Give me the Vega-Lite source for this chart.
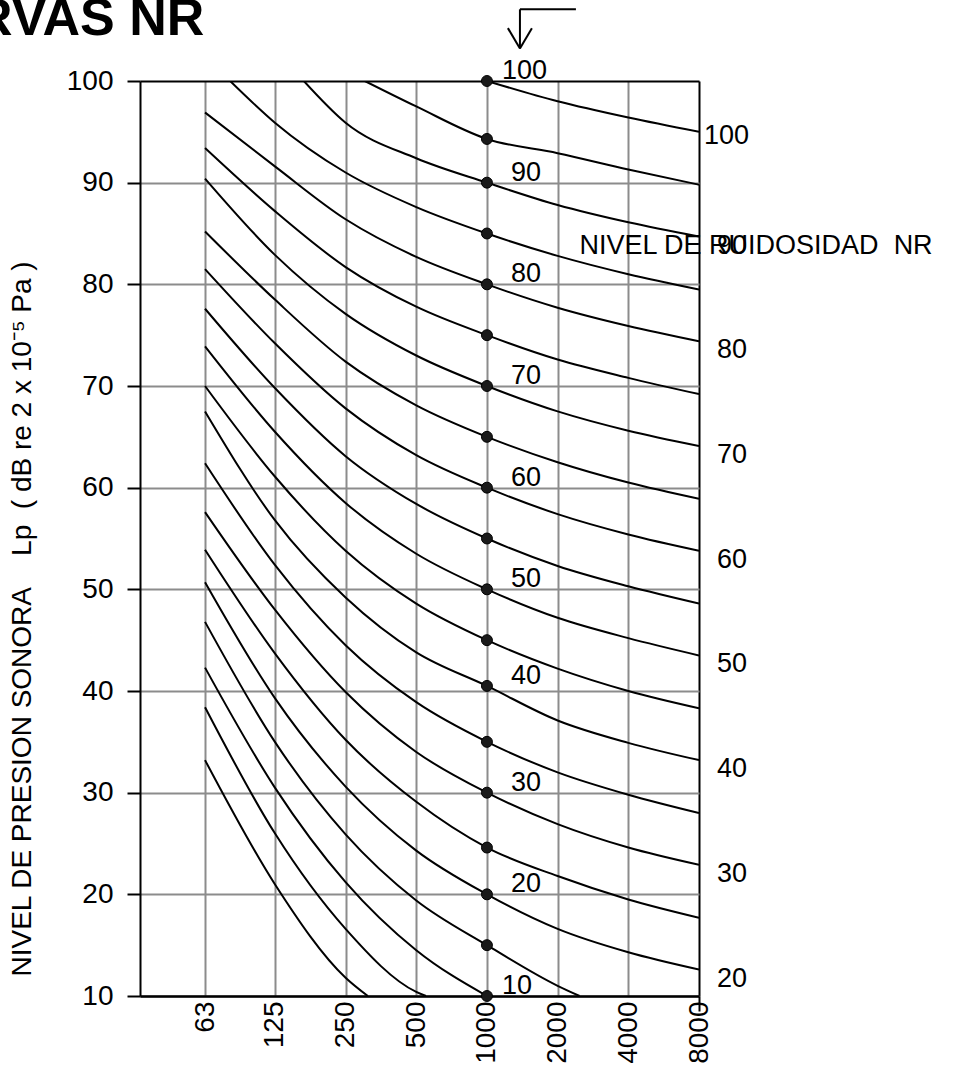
{
  "$schema": "https://vega.github.io/schema/vega-lite/v6.json",
  "width": 559,
  "height": 915,
  "autosize": {"type": "none"},
  "padding": {"left": 140, "top": 81, "right": 260, "bottom": 72},
  "background": "white",
  "config": {"font": "Liberation Sans", "view": {"stroke": null}},
  "title": {"text": "CURVAS NR", "anchor": "start", "frame": "group", "fontSize": 52, "fontWeight": "bold", "color": "black", "dx": -240, "offset": -38},
  "datasets": {
    "curves": [
      {"nr": 0, "f": 63, "db": 33.2}, {"nr": 0, "f": 125, "db": 21.0}, {"nr": 0, "f": 250, "db": 11.8}, {"nr": 0, "f": 311, "db": 10},
      {"nr": 5, "f": 63, "db": 38.4}, {"nr": 5, "f": 125, "db": 26.0}, {"nr": 5, "f": 250, "db": 16.6}, {"nr": 5, "f": 500, "db": 10.4}, {"nr": 5, "f": 550, "db": 10},
      {"nr": 10, "f": 63, "db": 42.3}, {"nr": 10, "f": 125, "db": 30.5}, {"nr": 10, "f": 250, "db": 21.2}, {"nr": 10, "f": 500, "db": 14.5}, {"nr": 10, "f": 1000, "db": 10},
      {"nr": 15, "f": 63, "db": 46.8}, {"nr": 15, "f": 125, "db": 35.0}, {"nr": 15, "f": 250, "db": 25.9}, {"nr": 15, "f": 500, "db": 19.4}, {"nr": 15, "f": 1000, "db": 15}, {"nr": 15, "f": 2000, "db": 11.0}, {"nr": 15, "f": 2480, "db": 10},
      {"nr": 20, "f": 63, "db": 50.7}, {"nr": 20, "f": 125, "db": 39.3}, {"nr": 20, "f": 250, "db": 30.6}, {"nr": 20, "f": 500, "db": 24.3}, {"nr": 20, "f": 1000, "db": 20}, {"nr": 20, "f": 2000, "db": 16.6}, {"nr": 20, "f": 4000, "db": 14.3}, {"nr": 20, "f": 8000, "db": 12.6},
      {"nr": 25, "f": 63, "db": 53.9}, {"nr": 25, "f": 125, "db": 43.7}, {"nr": 25, "f": 250, "db": 35.2}, {"nr": 25, "f": 500, "db": 29.1}, {"nr": 25, "f": 1000, "db": 24.6}, {"nr": 25, "f": 2000, "db": 21.8}, {"nr": 25, "f": 4000, "db": 19.5}, {"nr": 25, "f": 8000, "db": 17.7},
      {"nr": 30, "f": 63, "db": 57.6}, {"nr": 30, "f": 125, "db": 48.0}, {"nr": 30, "f": 250, "db": 39.9}, {"nr": 30, "f": 500, "db": 34.0}, {"nr": 30, "f": 1000, "db": 30}, {"nr": 30, "f": 2000, "db": 26.9}, {"nr": 30, "f": 4000, "db": 24.6}, {"nr": 30, "f": 8000, "db": 22.9},
      {"nr": 35, "f": 63, "db": 62.4}, {"nr": 35, "f": 125, "db": 52.4}, {"nr": 35, "f": 250, "db": 44.5}, {"nr": 35, "f": 500, "db": 38.9}, {"nr": 35, "f": 1000, "db": 35}, {"nr": 35, "f": 2000, "db": 32.0}, {"nr": 35, "f": 4000, "db": 29.8}, {"nr": 35, "f": 8000, "db": 28.0},
      {"nr": 40, "f": 63, "db": 67.5}, {"nr": 40, "f": 125, "db": 56.8}, {"nr": 40, "f": 250, "db": 49.2}, {"nr": 40, "f": 500, "db": 43.8}, {"nr": 40, "f": 1000, "db": 40.5}, {"nr": 40, "f": 2000, "db": 37.1}, {"nr": 40, "f": 4000, "db": 34.9}, {"nr": 40, "f": 8000, "db": 33.2},
      {"nr": 45, "f": 63, "db": 70.0}, {"nr": 45, "f": 125, "db": 61.1}, {"nr": 45, "f": 250, "db": 53.8}, {"nr": 45, "f": 500, "db": 48.6}, {"nr": 45, "f": 1000, "db": 45}, {"nr": 45, "f": 2000, "db": 42.2}, {"nr": 45, "f": 4000, "db": 40.0}, {"nr": 45, "f": 8000, "db": 38.3},
      {"nr": 50, "f": 63, "db": 73.9}, {"nr": 50, "f": 125, "db": 65.5}, {"nr": 50, "f": 250, "db": 58.5}, {"nr": 50, "f": 500, "db": 53.5}, {"nr": 50, "f": 1000, "db": 50}, {"nr": 50, "f": 2000, "db": 47.2}, {"nr": 50, "f": 4000, "db": 45.2}, {"nr": 50, "f": 8000, "db": 43.5},
      {"nr": 55, "f": 63, "db": 77.6}, {"nr": 55, "f": 125, "db": 69.8}, {"nr": 55, "f": 250, "db": 63.1}, {"nr": 55, "f": 500, "db": 58.4}, {"nr": 55, "f": 1000, "db": 55}, {"nr": 55, "f": 2000, "db": 52.3}, {"nr": 55, "f": 4000, "db": 50.3}, {"nr": 55, "f": 8000, "db": 48.6},
      {"nr": 60, "f": 63, "db": 81.5}, {"nr": 60, "f": 125, "db": 74.2}, {"nr": 60, "f": 250, "db": 67.8}, {"nr": 60, "f": 500, "db": 63.2}, {"nr": 60, "f": 1000, "db": 60}, {"nr": 60, "f": 2000, "db": 57.4}, {"nr": 60, "f": 4000, "db": 55.4}, {"nr": 60, "f": 8000, "db": 53.8},
      {"nr": 65, "f": 63, "db": 85.2}, {"nr": 65, "f": 125, "db": 78.5}, {"nr": 65, "f": 250, "db": 72.4}, {"nr": 65, "f": 500, "db": 68.1}, {"nr": 65, "f": 1000, "db": 65}, {"nr": 65, "f": 2000, "db": 62.5}, {"nr": 65, "f": 4000, "db": 60.5}, {"nr": 65, "f": 8000, "db": 58.9},
      {"nr": 70, "f": 63, "db": 90.4}, {"nr": 70, "f": 125, "db": 82.9}, {"nr": 70, "f": 250, "db": 77.1}, {"nr": 70, "f": 500, "db": 73.0}, {"nr": 70, "f": 1000, "db": 70}, {"nr": 70, "f": 2000, "db": 67.5}, {"nr": 70, "f": 4000, "db": 65.6}, {"nr": 70, "f": 8000, "db": 64.1},
      {"nr": 75, "f": 63, "db": 93.4}, {"nr": 75, "f": 125, "db": 87.2}, {"nr": 75, "f": 250, "db": 81.7}, {"nr": 75, "f": 500, "db": 77.8}, {"nr": 75, "f": 1000, "db": 75}, {"nr": 75, "f": 2000, "db": 72.6}, {"nr": 75, "f": 4000, "db": 70.8}, {"nr": 75, "f": 8000, "db": 69.2},
      {"nr": 80, "f": 63, "db": 96.9}, {"nr": 80, "f": 125, "db": 91.6}, {"nr": 80, "f": 250, "db": 86.4}, {"nr": 80, "f": 500, "db": 82.7}, {"nr": 80, "f": 1000, "db": 80}, {"nr": 80, "f": 2000, "db": 77.7}, {"nr": 80, "f": 4000, "db": 75.9}, {"nr": 80, "f": 8000, "db": 74.4},
      {"nr": 85, "f": 80.6, "db": 100}, {"nr": 85, "f": 125, "db": 95.9}, {"nr": 85, "f": 250, "db": 91.0}, {"nr": 85, "f": 500, "db": 87.6}, {"nr": 85, "f": 1000, "db": 85}, {"nr": 85, "f": 2000, "db": 82.8}, {"nr": 85, "f": 4000, "db": 81.0}, {"nr": 85, "f": 8000, "db": 79.5},
      {"nr": 90, "f": 166, "db": 100}, {"nr": 90, "f": 250, "db": 95.9}, {"nr": 90, "f": 500, "db": 92.4}, {"nr": 90, "f": 1000, "db": 90}, {"nr": 90, "f": 2000, "db": 87.8}, {"nr": 90, "f": 4000, "db": 86.1}, {"nr": 90, "f": 8000, "db": 84.7},
      {"nr": 95, "f": 302, "db": 100}, {"nr": 95, "f": 500, "db": 97.5}, {"nr": 95, "f": 1000, "db": 94.3}, {"nr": 95, "f": 2000, "db": 92.9}, {"nr": 95, "f": 4000, "db": 91.3}, {"nr": 95, "f": 8000, "db": 89.8},
      {"nr": 100, "f": 1000, "db": 100}, {"nr": 100, "f": 2000, "db": 98.0}, {"nr": 100, "f": 4000, "db": 96.4}, {"nr": 100, "f": 8000, "db": 95.0}
    ],
    "note": [{"f": 2480, "db": 83.8, "t": "NIVEL DE RUIDOSIDAD\u00a0\u00a0NR"}],
    "arrow": [
      {"f": 1382, "db": 107.05, "f2": 1382, "db2": 103.2},
      {"f": 1382, "db": 107.05, "f2": 2393, "db2": 107.05},
      {"f": 1228, "db": 105.2, "f2": 1382, "db2": 103.2},
      {"f": 1554, "db": 105.2, "f2": 1382, "db2": 103.2}
    ]
  },
  "layer": [
    {
      "data": {"name": "curves"},
      "mark": {"type": "line", "color": "black", "strokeWidth": 2, "clip": true, "interpolate": "monotone"},
      "encoding": {
        "x": {"field": "f", "type": "quantitative", "scale": {"type": "log", "domain": [33.3, 8000]},
          "axis": {"values": [63, 125, 250, 500, 1000, 2000, 4000, 8000], "format": "d", "labelAngle": -90, "labelFontSize": 28, "labelColor": "black", "labelPadding": -10, "tickSize": 15, "tickWidth": 2,
            "tickColor": {"condition": {"test": "datum.value == 8000", "value": "black"}, "value": "transparent"},
            "grid": true, "gridWidth": 2, "gridColor": {"condition": {"test": "datum.value == 8000", "value": "black"}, "value": "#8c8c8c"},
            "domainColor": "black", "domainWidth": 2.5, "title": null}},
        "y": {"field": "db", "type": "quantitative", "scale": {"domain": [10, 100]},
          "axis": {"values": [10, 20, 30, 40, 50, 60, 70, 80, 90, 100], "labelFontSize": 28, "labelColor": "black", "labelPadding": 14, "tickSize": 13, "tickWidth": 2, "tickColor": "black",
            "domainColor": "black", "domainWidth": 2, "grid": true, "gridWidth": 2,
            "gridColor": {"condition": {"test": "datum.value == 100", "value": "black"}, "value": "#8c8c8c"},
            "title": "NIVEL DE PRESION SONORA\u00a0\u00a0\u00a0\u00a0Lp\u00a0\u00a0( dB re 2 x 10\u207b\u2075 Pa )", "titleFontSize": 28, "titleFontWeight": "normal", "titleColor": "black", "titlePadding": 30, "titleAnchor": "start", "titleY": 895}},
        "detail": {"field": "nr"},
        "order": {"field": "f"}
      }
    },
    {
      "data": {"name": "curves"},
      "transform": [{"filter": "datum.f == 1000 && datum.nr >= 10"}],
      "mark": {"type": "point", "filled": true, "size": 120, "color": "#1a1a1a", "stroke": "black", "strokeWidth": 1, "opacity": 1},
      "encoding": {
        "x": {"field": "f", "type": "quantitative", "scale": {"type": "log", "domain": [33.3, 8000]}},
        "y": {"field": "db", "type": "quantitative", "scale": {"domain": [10, 100]}}
      }
    },
    {
      "data": {"name": "curves"},
      "transform": [{"filter": "datum.f == 1000 && datum.nr > 10 && datum.nr < 100 && datum.nr % 10 == 0"}],
      "mark": {"type": "text", "align": "left", "baseline": "middle", "dx": 24, "dy": -10, "fontSize": 27, "color": "black"},
      "encoding": {
        "x": {"field": "f", "type": "quantitative", "scale": {"type": "log", "domain": [33.3, 8000]}},
        "y": {"field": "db", "type": "quantitative", "scale": {"domain": [10, 100]}},
        "text": {"field": "nr", "type": "quantitative"}
      }
    },
    {
      "data": {"name": "curves"},
      "transform": [{"filter": "datum.f == 1000 && (datum.nr == 10 || datum.nr == 100)"}],
      "mark": {"type": "text", "align": "left", "baseline": "middle", "dx": 15, "dy": -10, "fontSize": 27, "color": "black"},
      "encoding": {
        "x": {"field": "f", "type": "quantitative", "scale": {"type": "log", "domain": [33.3, 8000]}},
        "y": {"field": "db", "type": "quantitative", "scale": {"domain": [10, 100]}},
        "text": {"field": "nr", "type": "quantitative"}
      }
    },
    {
      "data": {"name": "curves"},
      "transform": [{"filter": "datum.f == 8000 && datum.nr % 10 == 0 && datum.nr < 100"}],
      "mark": {"type": "text", "align": "left", "baseline": "middle", "dx": 18, "dy": 9, "fontSize": 27, "color": "black"},
      "encoding": {
        "x": {"field": "f", "type": "quantitative", "scale": {"type": "log", "domain": [33.3, 8000]}},
        "y": {"field": "db", "type": "quantitative", "scale": {"domain": [10, 100]}},
        "text": {"field": "nr", "type": "quantitative"}
      }
    },
    {
      "data": {"name": "curves"},
      "transform": [{"filter": "datum.f == 8000 && datum.nr == 100"}],
      "mark": {"type": "text", "align": "left", "baseline": "middle", "dx": 5, "dy": 4, "fontSize": 27, "color": "black"},
      "encoding": {
        "x": {"field": "f", "type": "quantitative", "scale": {"type": "log", "domain": [33.3, 8000]}},
        "y": {"field": "db", "type": "quantitative", "scale": {"domain": [10, 100]}},
        "text": {"field": "nr", "type": "quantitative"}
      }
    },
    {
      "data": {"name": "note"},
      "mark": {"type": "text", "align": "left", "baseline": "middle", "fontSize": 27, "color": "black"},
      "encoding": {
        "x": {"field": "f", "type": "quantitative", "scale": {"type": "log", "domain": [33.3, 8000]}},
        "y": {"field": "db", "type": "quantitative", "scale": {"domain": [10, 100]}},
        "text": {"field": "t"}
      }
    },
    {
      "data": {"name": "arrow"},
      "mark": {"type": "rule", "color": "black", "strokeWidth": 2},
      "encoding": {
        "x": {"field": "f", "type": "quantitative", "scale": {"type": "log", "domain": [33.3, 8000]}},
        "y": {"field": "db", "type": "quantitative", "scale": {"domain": [10, 100]}},
        "x2": {"field": "f2"},
        "y2": {"field": "db2"}
      }
    }
  ]
}
